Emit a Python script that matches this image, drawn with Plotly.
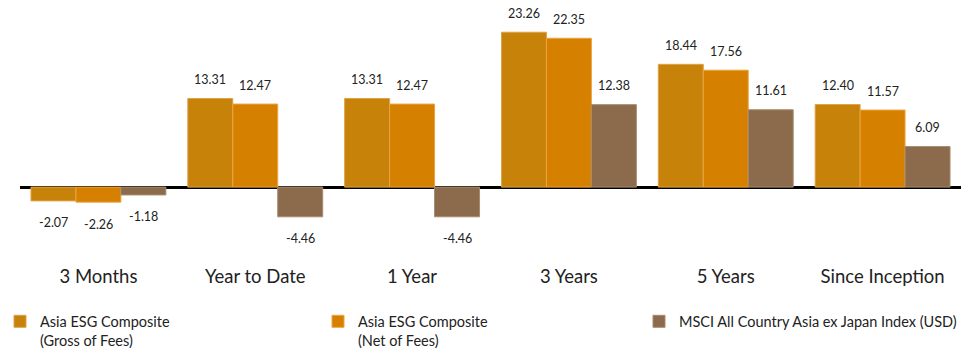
import plotly.graph_objects as go

categories = ["3 Months", "Year to Date", "1 Year", "3 Years", "5 Years", "Since Inception"]
series_names = ["Asia ESG Composite<br>(Gross of Fees)", "Asia ESG Composite<br>(Net of Fees)",
                "MSCI All Country Asia ex Japan Index (USD)"]
gross = [-2.07, 13.31, 13.31, 23.26, 18.44, 12.40]
net = [-2.26, 12.47, 12.47, 22.35, 17.56, 11.57]
msci = [-1.18, -4.46, -4.46, 12.38, 11.61, 6.09]
colors = ["#C7820A", "#D68000", "#8C6A4C"]
lines = ["#DDA24A", "#EBA440", "#A88A6C"]

W, H = 966, 349
ml, mr, mt, mb = 20, 5, 0, 86
bargap = 0.14
FONT = "Lato, Liberation Sans, sans-serif"
legend_ids = ["legend", "legend2", "legend3"]
legend_x_px = [0, 318, 639]

fig = go.Figure()
all_series = [gross, net, msci]
for name, vals, c, lc, lg in zip(series_names, all_series, colors, lines, legend_ids):
    fig.add_trace(go.Bar(x=categories, y=vals, name=name, marker_color=c,
                         marker_line=dict(color=lc, width=1), legend=lg, showlegend=True))

plot_w = W - ml - mr
bar_w = plot_w / len(categories) * (1 - bargap) / 3
annotations = []
for i, vals in enumerate(all_series):
    for cat, v in zip(categories, vals):
        annotations.append(dict(x=cat, y=v, xref="x", yref="y", text=f"{v:.2f}",
                                showarrow=False, xshift=(i - 1) * bar_w,
                                yshift=19 if v >= 0 else -22,
                                font=dict(size=12.5, color="#222222", family=FONT)))

legend_layout = {}
for lg, px in zip(legend_ids, legend_x_px):
    legend_layout[lg] = dict(orientation="h", xref="container", yref="container",
                             x=px / W, y=0.125, xanchor="left", yanchor="top",
                             valign="top", font=dict(size=14.5, color="#222222", family=FONT),
                             itemwidth=30, bgcolor="rgba(0,0,0,0)")

fig.update_layout(
    width=W, height=H, barmode="group", bargap=bargap, bargroupgap=0,
    margin=dict(l=ml, r=mr, t=mt, b=mb),
    paper_bgcolor="white", plot_bgcolor="white", showlegend=True,
    font=dict(family=FONT, color="#222222"),
    xaxis=dict(showgrid=False, showline=False, ticks="", tickfont=dict(size=18.5, color="#222222"),
               fixedrange=True),
    yaxis=dict(range=[-11.4, 28.1], showgrid=False, showticklabels=False, zeroline=True,
               zerolinecolor="black", zerolinewidth=2.5, fixedrange=True),
    annotations=annotations,
    **legend_layout,
)
fig.write_html("out.html")
